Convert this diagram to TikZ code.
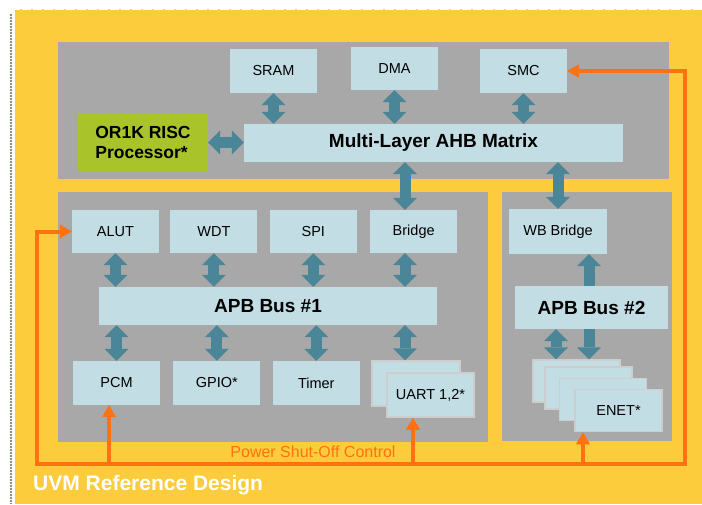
\documentclass[tikz,border=0pt]{standalone}
\usepackage{fontspec}
\setmainfont{Liberation Sans}
\usepackage{xcolor}
\usetikzlibrary{arrows.meta, positioning}
\definecolor{cyel}{HTML}{FCCC3C}
\definecolor{cpanel}{HTML}{A8A8A8}
\definecolor{cbox}{HTML}{C3DDE5}
\definecolor{cedge}{HTML}{CDCDCD}
\definecolor{cteal}{HTML}{4A8598}
\definecolor{cgreen}{HTML}{A9C42B}
\definecolor{corange}{HTML}{FF7212}
\definecolor{cdot}{HTML}{8C8C8C}

\begin{document}
\begin{tikzpicture}[x=1pt, y=-1pt, font=\fontsize{14.5}{16}\selectfont, node distance=12pt,
    blk/.style={fill=cbox, inner sep=0pt, minimum width=87pt, minimum height=44pt},
    stk/.style={blk, draw=cedge, line width=1.5pt, minimum width=87pt, minimum height=42pt},
    bus/.style={fill=cbox, inner sep=0pt, font=\fontsize{19}{21}\selectfont\bfseries},
    dbl/.style={cteal, line width=11pt,
      {Triangle[width=24pt,length=12pt,line width=0pt]}-{Triangle[width=24pt,length=12pt,line width=0pt]}},
    pso/.style={corange, line width=4pt},
    otip/.tip={Triangle[width=14pt,length=12pt,line width=0pt]}]
  \useasboundingbox (0,0) rectangle (702,504);
  \fill[white] (0,0) rectangle (702,504);
  \fill[cyel] (15,10) rectangle (702,504);
  \draw[cdot, line width=2pt, densely dotted] (11,14) -- (11,504);
  \draw[cedge, line width=0.5pt, dash pattern=on 2pt off 9pt] (20,9.7) -- (702,9.7);
  % panels
  \fill[cpanel] (58,42) rectangle (669,179);
  \fill[cpanel] (58,192) rectangle (488,442);
  \fill[cpanel] (502,192) rectangle (672,441);
  \coordinate (xb) at (405,0);
  \coordinate (xl) at (556,0);
  \coordinate (xr) at (589,0);

  \node[blk] (sram) at (273.5,71) {SRAM};
  \node[blk, minimum height=43pt] (dma) at (394.5,68.5) {DMA};
  \node[blk] (smc) at (523.5,71) {SMC};
  \node[bus, minimum width=379pt, minimum height=38pt] (ahb) at (433.5,143) {Multi-Layer AHB Matrix};
  \node[fill=cgreen, inner sep=0pt, minimum width=130pt, minimum height=57pt, align=left,
        font=\fontsize{17.5}{20}\selectfont\bfseries] (cpu) at (143,142.5) {OR1K RISC\\Processor*};

  \node[blk, minimum height=43pt] (alut) at (115.5,231.5) {ALUT};
  \node[blk, minimum height=43pt, right=11pt of alut] (wdt) {WDT};
  \node[blk, minimum height=43pt, right=of wdt] (spi) {SPI};
  \node[blk, minimum height=43pt, right=13pt of spi] (bridge) {Bridge};
  \node[bus, minimum width=338pt, minimum height=38pt] (apba) at (268,306) {APB Bus \#1};
  \node[blk] (pcm) at (116.5,383) {PCM};
  \node[blk, right=13pt of pcm] (gpio) {GPIO*};
  \node[blk, right=of gpio] (timer) {Timer};
  \node[stk, minimum width=88pt, minimum height=45pt] (uartb) at (416,383.5) {};
  \node[stk, minimum width=87pt, minimum height=44pt] (uart) at (430.5,395) {UART 1,2*};

  \node[blk, minimum width=98pt, minimum height=45pt] (wbb) at (558,231.5) {WB Bridge};
  \node[stk] (enA) at (576.5,381) {};
  \node[stk] (enB) at (588.5,388) {};
  \node[stk] (enC) at (603,399.5) {};
  \node[stk] (enet) at (618.5,410.5) {ENET*};

  \draw[dbl] (sram.south) -- (sram.south |- ahb.north);
  \draw[dbl] (dma.south) -- (dma.south |- ahb.north);
  \draw[dbl] (smc.south) -- (smc.south |- ahb.north);
  \draw[dbl] (cpu.east) -- (cpu.east -| ahb.west);
  \draw[dbl] (ahb.south -| xb) -- (bridge.north -| xb);
  \draw[dbl] (ahb.south -| wbb.north) -- (wbb.north);
  \foreach \n in {alut, wdt, spi}
    \draw[dbl] (\n.south) -- (\n.south |- apba.north);
  \draw[dbl] (bridge.south -| xb) -- (apba.north -| xb);
  \foreach \n in {pcm, gpio, timer}
    \draw[dbl] (apba.south -| \n.north) -- (\n.north);
  \draw[dbl] (apba.south -| xb) -- (uartb.north -| xb);
  \draw[dbl] (enA.north -| xr) -- (wbb.south -| xr);
  \node[bus, minimum width=153pt, minimum height=43pt] (apbb) at (591.5,307.5) {APB Bus \#2};
  \draw[dbl] (apbb.south -| xl) -- (enA.north -| xl);

  % power shut-off
  \coordinate (pl) at (37,464);
  \coordinate (pr) at (685,464);
  \coordinate (o1) at (109,464);
  \coordinate (o2) at (413,464);
  \coordinate (o3) at (583,464);
  \draw[pso, otip-otip] (alut.west) -| (pl) -- (pr) |- (smc.east);
  \draw[pso, -otip] (o1) -- (o1 |- pcm.south);
  \draw[pso, -otip] (o2) -- (o2 |- uart.south);
  \draw[pso, -otip] (o3) -- (o3 |- enet.south);
  \node[corange, font=\fontsize{16}{18}\selectfont] (psoff) at (313,452) {Power Shut-Off Control};
  \node[white, anchor=west, inner sep=0pt, font=\fontsize{21}{24}\selectfont\bfseries] (title) at (33,485) {UVM Reference Design};
\end{tikzpicture}
\end{document}
